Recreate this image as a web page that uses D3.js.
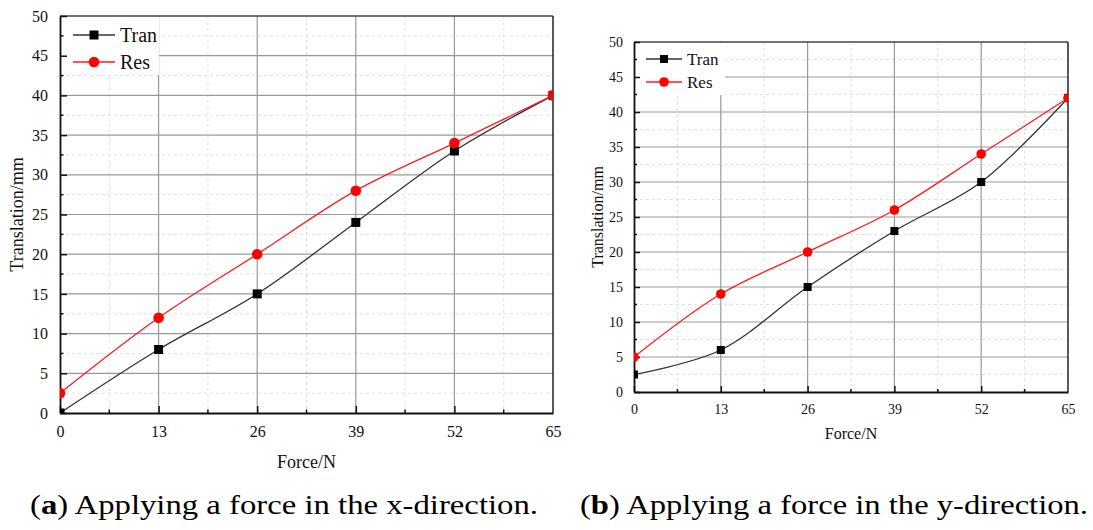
<!DOCTYPE html>
<html>
<head>
<meta charset="utf-8">
<script src="https://cdn.jsdelivr.net/npm/d3@7"></script>
<style>
  body { margin: 0; background: #fff; }
  svg { display: block; }
</style>
</head>
<body>
<div id="chart"></div>
<script>
// Data
var forces = [0, 13, 26, 39, 52, 65];
var tranX = [0, 8, 15, 24, 33, 40];
var resX = [2.5, 12, 20, 28, 34, 40];
var tranY = [2.5, 6, 15, 23, 30, 42];
var resY = [5, 14, 20, 26, 34, 42];
var xTicks = [0, 13, 26, 39, 52, 65];
var yTicks = [0, 5, 10, 15, 20, 25, 30, 35, 40, 45, 50];
var seriesNames = ["Tran", "Res"];
var captions = ["a", "b"];
var captionText = [") Applying a force in the x-direction.", ") Applying a force in the y-direction."];

var svg = d3.select("#chart")
  .append("svg")
  .attr("width", 1093)
  .attr("height", 530);

var font = "'Liberation Serif', 'Times New Roman', serif";

function panel(id, box, tran, res, opt) {
  var x = d3.scaleLinear().domain([0, 65]).range([box.left, box.right]);
  var y = d3.scaleLinear().domain([0, 50]).range([box.bottom, box.top]);
  var g = svg.append("g");

  g.append("clipPath").attr("id", "clip" + id)
    .append("rect")
    .attr("x", box.left).attr("y", box.top)
    .attr("width", box.right - box.left).attr("height", box.bottom - box.top);

  // minor grid (dashed)
  var minorX = d3.range(6.5, 65, 13);
  var minorY = d3.range(2.5, 50, 5);
  g.selectAll(".mx").data(minorX).join("line")
    .attr("x1", d => x(d)).attr("x2", d => x(d))
    .attr("y1", box.top).attr("y2", box.bottom)
    .attr("stroke", "#e0e0e0").attr("stroke-dasharray", "3,3");
  g.selectAll(".my").data(minorY).join("line")
    .attr("x1", box.left).attr("x2", box.right)
    .attr("y1", d => y(d)).attr("y2", d => y(d))
    .attr("stroke", "#e0e0e0").attr("stroke-dasharray", "3,3");

  // major grid
  g.selectAll(".gx").data(xTicks.slice(1, -1)).join("line")
    .attr("x1", d => x(d)).attr("x2", d => x(d))
    .attr("y1", box.top).attr("y2", box.bottom)
    .attr("stroke", "#999").attr("stroke-width", 1.2);
  g.selectAll(".gy").data(yTicks.slice(1, -1)).join("line")
    .attr("x1", box.left).attr("x2", box.right)
    .attr("y1", d => y(d)).attr("y2", d => y(d))
    .attr("stroke", "#999").attr("stroke-width", 1.2);

  // legend box covers the grid
  g.append("rect")
    .attr("x", box.left + 1).attr("y", box.top + 1)
    .attr("width", opt.legW).attr("height", opt.legH)
    .attr("fill", "#fff");

  // frame (top and right)
  g.append("line").attr("x1", box.left).attr("x2", box.right)
    .attr("y1", box.top).attr("y2", box.top)
    .attr("stroke", "#444").attr("stroke-width", 1.3);
  g.append("line").attr("x1", box.right).attr("x2", box.right)
    .attr("y1", box.top).attr("y2", box.bottom)
    .attr("stroke", "#222").attr("stroke-width", 1.5);

  // axes with inward ticks
  var xAxis = g.append("g")
    .attr("transform", "translate(0," + box.bottom + ")")
    .call(d3.axisBottom(x).tickValues(xTicks).tickSizeInner(-opt.tick).tickSizeOuter(0).tickPadding(opt.tick + 6));
  xAxis.selectAll(".tick").filter(d => d === 65).select("line").remove();
  var yAxis = g.append("g")
    .attr("transform", "translate(" + box.left + ",0)")
    .call(d3.axisLeft(y).tickValues(yTicks).tickSizeInner(-opt.tick).tickSizeOuter(0).tickPadding(opt.tick + 5));
  [xAxis, yAxis].forEach(function (a) {
    a.style("font-family", font).style("font-size", opt.tickFont + "px");
    a.select(".domain").attr("stroke", "#111").attr("stroke-width", 1.8);
    a.selectAll(".tick line").attr("stroke", "#111").attr("stroke-width", 1.5);
    a.selectAll("text").style("font-family", font).style("font-size", opt.tickFont + "px").attr("fill", "#111");
  });
  g.selectAll(".mtx").data(minorX).join("line")
    .attr("x1", d => x(d)).attr("x2", d => x(d))
    .attr("y1", box.bottom).attr("y2", box.bottom - opt.tick / 2)
    .attr("stroke", "#111").attr("stroke-width", 1.5);
  g.selectAll(".mty").data(minorY).join("line")
    .attr("x1", box.left).attr("x2", box.left + opt.tick / 2)
    .attr("y1", d => y(d)).attr("y2", d => y(d))
    .attr("stroke", "#111").attr("stroke-width", 1.5);

  // series
  var line = d3.line().x(d => x(d[0])).y(d => y(d[1])).curve(d3.curveCatmullRom.alpha(0.5));
  var plot = g.append("g").attr("clip-path", "url(#clip" + id + ")");
  var tp = forces.map((f, i) => [f, tran[i]]);
  var rp = forces.map((f, i) => [f, res[i]]);
  plot.append("path").datum(tp).attr("d", line)
    .attr("fill", "none").attr("stroke", "#333").attr("stroke-width", 1.3);
  plot.append("path").datum(rp).attr("d", line)
    .attr("fill", "none").attr("stroke", "#ff1a1a").attr("stroke-width", 1.3);
  plot.selectAll(".sq").data(tp).join("rect")
    .attr("x", d => x(d[0]) - opt.sq / 2).attr("y", d => y(d[1]) - opt.sq / 2)
    .attr("width", opt.sq).attr("height", opt.sq).attr("fill", "#000");
  plot.selectAll(".ci").data(rp).join("circle")
    .attr("cx", d => x(d[0])).attr("cy", d => y(d[1]))
    .attr("r", opt.sq / 2 + 0.8).attr("fill", "#ff0000");

  // legend
  seriesNames.forEach(function (name, i) {
    var ly = opt.legY + i * opt.legGap;
    g.append("line")
      .attr("x1", opt.legX).attr("x2", opt.legX + opt.legLen)
      .attr("y1", ly).attr("y2", ly)
      .attr("stroke", i === 0 ? "#333" : "#ff1a1a").attr("stroke-width", 1.3);
    var cx = opt.legX + opt.legLen / 2;
    if (i === 0) {
      g.append("rect").attr("x", cx - opt.sq / 2).attr("y", ly - opt.sq / 2)
        .attr("width", opt.sq).attr("height", opt.sq).attr("fill", "#000");
    } else {
      g.append("circle").attr("cx", cx).attr("cy", ly).attr("r", opt.sq / 2 + 0.8).attr("fill", "#ff0000");
    }
    g.append("text")
      .attr("x", opt.legX + opt.legLen + 5).attr("y", ly + opt.legFont * 0.33)
      .attr("font-family", font).attr("font-size", opt.legFont).attr("fill", "#111")
      .text(name);
  });

  // axis titles
  g.append("text")
    .attr("x", (box.left + box.right) / 2).attr("y", opt.xTitleY)
    .attr("text-anchor", "middle")
    .attr("font-family", font).attr("font-size", opt.titleFont).attr("fill", "#111")
    .text("Force/N");
  g.append("text")
    .attr("transform", "translate(" + opt.yTitleX + "," + (box.top + box.bottom) / 2 + ") rotate(-90)")
    .attr("text-anchor", "middle")
    .attr("font-family", font).attr("font-size", opt.titleFont).attr("fill", "#111")
    .text("Translation/mm");
}

panel("a", { left: 60, right: 553, top: 16, bottom: 413 }, tranX, resX, {
  tick: 7, tickFont: 16, sq: 9, legX: 73, legY: 35, legGap: 27, legLen: 42, legFont: 20,
  legW: 98, legH: 58, xTitleY: 468, yTitleX: 23, titleFont: 18
});
panel("b", { left: 634, right: 1068, top: 42, bottom: 392 }, tranY, resY, {
  tick: 6, tickFont: 14, sq: 8, legX: 646, legY: 59, legGap: 23, legLen: 36, legFont: 17,
  legW: 90, legH: 52, xTitleY: 439, yTitleX: 603, titleFont: 16
});

// captions
[30, 580].forEach(function (cx, i) {
  var t = svg.append("text")
    .attr("x", cx).attr("y", 514)
    .attr("font-family", font).attr("font-size", 28).attr("fill", "#000")
    .attr("textLength", 508).attr("lengthAdjust", "spacingAndGlyphs");
  t.append("tspan").text("(");
  t.append("tspan").attr("font-weight", "bold").text(captions[i]);
  t.append("tspan").text(captionText[i]);
});
</script>
</body>
</html>
